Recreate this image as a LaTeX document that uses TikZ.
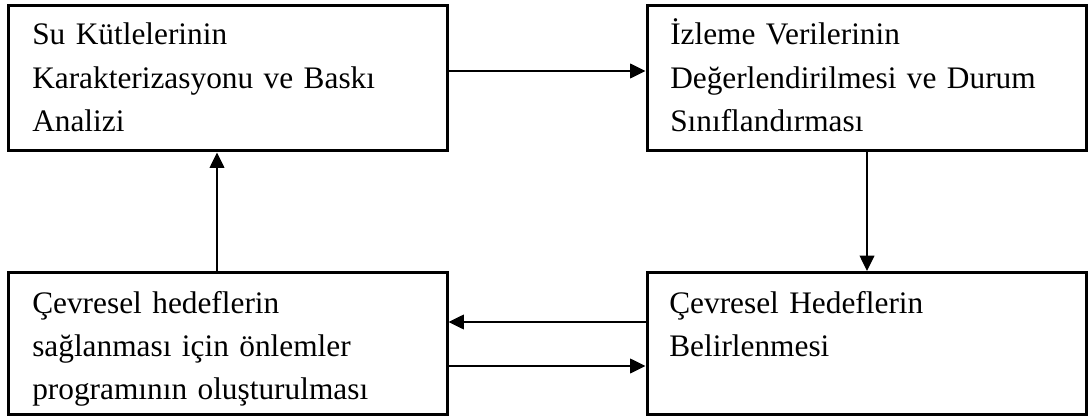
\documentclass[tikz,border=0pt]{standalone}
\usepackage{fontspec}
\setmainfont{Liberation Serif}
\usetikzlibrary{arrows.meta}
\begin{document}
\begin{tikzpicture}[x=0.75pt,y=-0.75pt,
  box/.style={draw=black,line width=2.25pt,inner sep=0pt},
  txt/.style={anchor=base west,inner sep=0pt,text width=420*0.75pt,align=left,
    font=\fontsize{23.5pt}{32.3pt}\selectfont},
  conn/.style={line width=1.1pt,-{Triangle[length=11.5pt,width=11pt]}}]
\useasboundingbox (0,0) rectangle (1088,417);
% boxes
\node[box,minimum width=439*0.75pt,minimum height=145*0.75pt] (tl) at (227.5,78.5) {};
\node[box,minimum width=439*0.75pt,minimum height=145*0.75pt] (tr) at (866.5,78.5) {};
\node[box,minimum width=439*0.75pt,minimum height=142*0.75pt] (bl) at (227.5,343.5) {};
\node[box,minimum width=439*0.75pt,minimum height=142*0.75pt] (br) at (866.5,343.5) {};
% texts
\node[txt] (ttl) at (32,45) {Su Kütlelerinin\\Karakterizasyonu ve Baskı\\Analizi};
\node[txt] (ttr) at (670,45) {İzleme Verilerinin\\Değerlendirilmesi ve Durum\\Sınıflandırması};
\node[txt] (tbl) at (32,313) {Çevresel hedeflerin\\sağlanması için önlemler\\programının oluşturulması};
\node[txt] (tbr) at (669,313) {Çevresel Hedeflerin\\Belirlenmesi};
% connectors
\coordinate (a1) at (447,71);
\draw[conn] (tl.east |- a1) -- (tr.west |- a1);
\coordinate (a2) at (867,0);
\draw[conn] (tr.south -| a2) -- (br.north -| a2);
\coordinate (a3) at (0,322);
\draw[conn] (br.west |- a3) -- (bl.east |- a3);
\coordinate (a4) at (0,366);
\draw[conn] (bl.east |- a4) -- (br.west |- a4);
\coordinate (a5) at (217,0);
\draw[conn] (bl.north -| a5) -- (tl.south -| a5);
\end{tikzpicture}
\end{document}
